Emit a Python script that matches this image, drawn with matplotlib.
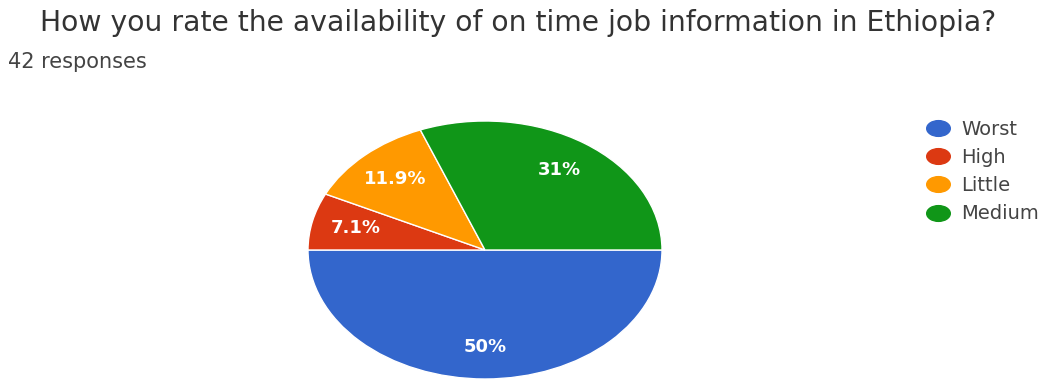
import matplotlib.pyplot as plt
from matplotlib.lines import Line2D
from matplotlib.path import Path
from matplotlib.transforms import Affine2D

# Survey answers (42 responses)
labels = ["Worst", "High", "Little", "Medium"]
counts = [21, 3, 5, 13]
colors = ["#3366cc", "#dc3912", "#ff9900", "#109618"]

title = "How you rate the availability of on time job information in Ethiopia?"
subtitle = "42 responses"

plt.rcParams["font.family"] = ["DejaVu Sans"]

W, H = 1046, 379
fig = plt.figure(figsize=(W / 100, H / 100), dpi=100)
fig.patch.set_facecolor("white")


def pct_label(p):
    # whole numbers without decimals, e.g. "31%" and "50%"
    return f"{p:.0f}%" if round(p, 1) == round(p) else f"{p:.1f}%"


# Pie axes, stretched wider than tall
ax = fig.add_axes([308 / W, 0.0, 354 / W, 258 / H])
wedges, texts, pcts = ax.pie(
    counts,
    colors=colors,
    startangle=0,
    counterclock=False,
    autopct=pct_label,
    pctdistance=0.75,
    wedgeprops=dict(edgecolor="white", linewidth=1),
    textprops=dict(color="white", fontsize=13, fontweight="bold"),
)
ax.set_aspect("auto")
ax.set_xlim(-1.0, 1.0)
ax.set_ylim(-1.0, 1.0)
for w in wedges:
    w.set_clip_on(False)

fig.text(40 / W, 1 - 31 / H, title, fontsize=20.3, color="#333333",
         va="baseline", ha="left")
fig.text(8 / W, 1 - 68 / H, subtitle, fontsize=15, color="#444444",
         va="baseline", ha="left")

# Legend with oval markers
oval = Path.unit_circle().transformed(Affine2D().scale(1.5, 1.0))
handles = [
    Line2D([], [], linestyle="none", marker=oval, markersize=17,
           markerfacecolor=c, markeredgecolor=c)
    for c in colors
]
fig.legend(handles, labels, loc="upper left", bbox_to_anchor=(926 / W, 1 - 120 / H),
           frameon=False, fontsize=14, labelcolor="#444444", handlelength=1.2,
           handletextpad=0.6, labelspacing=0.47, borderaxespad=0, borderpad=0)

plt.savefig("out.png", dpi=100)
